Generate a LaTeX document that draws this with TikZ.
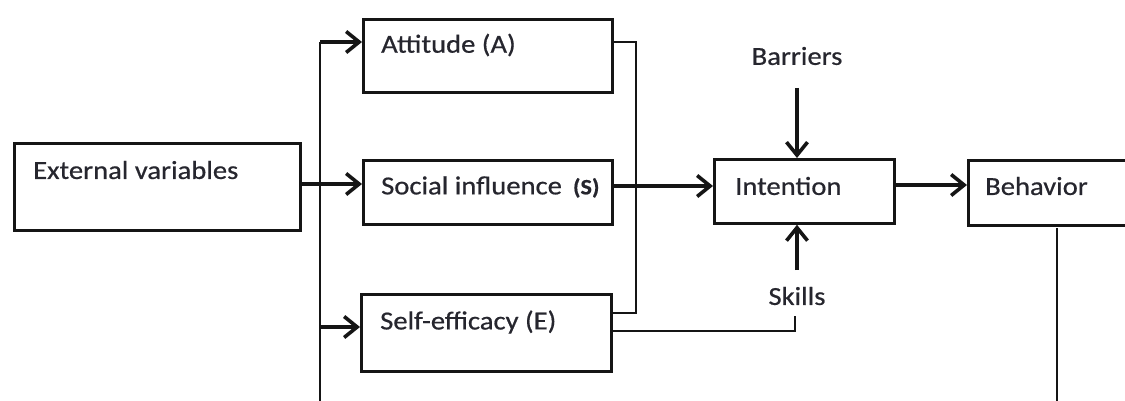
\documentclass[tikz,border=0pt]{standalone}
\usepackage{fontspec}
\setmainfont{Carlito}[FakeStretch=1.1,FakeBold=0.6]
\usetikzlibrary{arrows.meta,calc}
\definecolor{ink}{HTML}{151515}
\definecolor{txtc}{HTML}{26262E}
\begin{document}
\begin{tikzpicture}[x=1pt,y=-1pt,
  box/.style={draw=ink, line width=2.8pt, rectangle, anchor=north west, inner sep=0pt},
  lbl/.style={anchor=west, inner sep=0pt, text=txtc, font=\fontsize{26}{30}\selectfont},
  arr/.style={draw=ink, line width=3.6pt, -{Straight Barb[length=13pt,width=21pt,line width=3.6pt]}},
  conn/.style={draw=ink, line width=2.8pt},
  thinconn/.style={draw=ink, line width=2.4pt}]
\useasboundingbox (0,0) rectangle (1125,401);
% boxes
\node[box, minimum width=286pt, minimum height=87pt] (ext) at (13,142) {};
\node[box, minimum width=249pt, minimum height=73pt] (att) at (362,18) {};
\node[box, minimum width=249pt, minimum height=64pt] (soc) at (362,159) {};
\node[box, minimum width=250pt, minimum height=77pt] (self) at (360,293) {};
\node[box, minimum width=180pt, minimum height=64pt] (int) at (713,158) {};
\node[box, minimum width=180pt, minimum height=65pt] (beh) at (967,159) {};
% labels
\node[lbl] (extT) at (33,170) {External variables};
\node[lbl] (attT) at (381,45) {Attitude (A)};
\node[lbl] (socT) at (381,187) {Social influence\hspace{11pt}{\fontsize{22}{24}\selectfont\bfseries (S)}};
\node[lbl] (selfT) at (380,322) {Self-efficacy (E)};
\node[lbl] (intT) at (735,186) {Intention};
\node[lbl] (behT) at (985,186) {Behavior};
\node[lbl, anchor=center] (bar) at (797,56) {Barriers};
\node[lbl, anchor=center] (ski) at (797,296) {Skills};
% coordinates
\coordinate (lt) at (320,42);
\coordinate (lb) at (320,401);
\coordinate (l2) at (320,327);
\coordinate (e1) at (299,184);
\coordinate (r1) at (611,42);
\coordinate (r2) at (636,42);
\coordinate (r3) at (636,313);
\coordinate (r4) at (610,313);
\coordinate (s1) at (611,186);
\coordinate (k1) at (610,331);
\coordinate (k2) at (795,331);
\coordinate (k3) at (795,316);
\coordinate (b1) at (797,88);
\coordinate (k4) at (797,270);
\coordinate (h1) at (1057,228);
\coordinate (h2) at (1057,401);
% connectors
\draw[conn] (lt) -- (lb);
\draw[arr] (lt) -- (lt -| att.west);
\draw[arr] (l2) -- (l2 -| self.west);
\draw[arr] (e1) -- (e1 -| soc.west);
\draw[conn] (r1) -- (r2) -- (r3) -- (r4);
\draw[arr] (s1) -- (s1 -| int.west);
\draw[arr] (b1) -- (b1 |- int.north);
\draw[arr] (k4) -- (k4 |- int.south);
\draw[arr] (int.east |- 0,185) -- (beh.west |- 0,185);
\draw[thinconn] (k1) -- (k2) -- (k3);
\draw[thinconn] (h1) -- (h2);
\end{tikzpicture}
\end{document}
